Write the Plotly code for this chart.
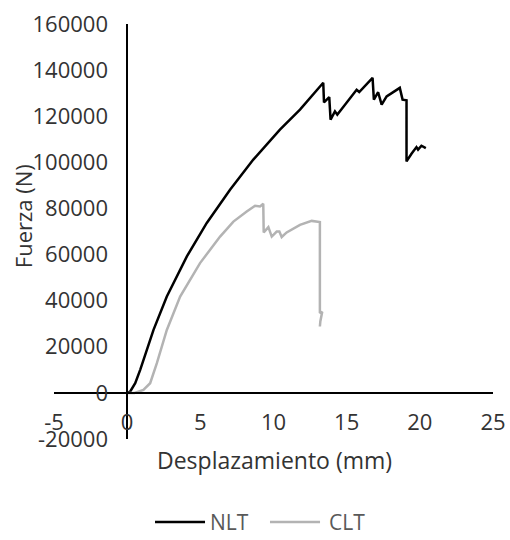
import plotly.graph_objects as go

# ---- data ----
nlt_x = [0, 0.2, 0.55, 0.89, 1.8, 2.71, 4.08, 5.44, 7.03, 8.62, 10.44, 11.81, 13.4,
         13.45, 13.81, 13.9, 14.2, 14.36, 14.66, 15.22, 15.68, 15.86, 16.36, 16.77,
         16.86, 17.15, 17.39, 17.73, 18.63, 18.82, 19.09, 19.09, 19.43, 19.77, 19.88,
         20.11, 20.41]
nlt_y = [0, 500, 4200, 10000, 27350, 41800, 59200, 73700, 88100, 101200, 114200, 122900, 134500,
         126000, 128300, 118500, 122100, 120700, 123100, 127900, 131500, 130500, 134100, 136600,
         127200, 130400, 125000, 128600, 132300, 127200, 126900, 100400, 103700, 106600, 105500,
         107200, 106200]

clt_x = [0, 0.5, 1.11, 1.57, 2.03, 2.71, 3.62, 4.98, 6.35, 7.26, 8.17, 8.74, 9.08, 9.3,
         9.33, 9.65, 9.88, 10.22, 10.4, 10.56, 10.9, 11.81, 12.61, 13.17,
         13.17, 13.33, 13.2, 13.17]
clt_y = [0, 0, 1300, 4200, 12900, 27300, 41800, 56300, 67800, 74300, 78700, 81200, 80900, 82000,
         69600, 71900, 67800, 70000, 70000, 67600, 69600, 72900, 74600, 74100,
         34600, 35200, 31000, 28800]

series_names = ["NLT", "CLT"]
series_colors = ["#000000", "#b3b3b3"]

x_ticks = [-5, 0, 5, 10, 15, 20, 25]
x_ticktext = ["-5", "0", "5", "10", "15", "20", "25"]
y_ticks = [-20000, 0, 20000, 40000, 60000, 80000, 100000, 120000, 140000, 160000]
y_ticktext = ["-20000", "0", "20000", "40000", "60000", "80000", "100000",
              "120000", "140000", "160000"]

FONT = "Open Sans"
TXT = "#333333"
LEG = "#595959"

fig = go.Figure()
fig.add_trace(go.Scatter(x=nlt_x, y=nlt_y, mode="lines", name=series_names[0],
                         line=dict(color=series_colors[0], width=2.5)))
fig.add_trace(go.Scatter(x=clt_x, y=clt_y, mode="lines", name=series_names[1],
                         line=dict(color=series_colors[1], width=2.5)))

xmin, xmax = -5, 25
ymin, ymax = -20000, 160000

# manual legend (line samples + labels) below the plot
leg_y = -0.2
leg_items = [(0.2301, 0.344, 0.3508), (0.492, 0.606, 0.6219)]
shapes = []
annotations = []
for (x0, x1, xt), name, col in zip(leg_items, series_names, series_colors):
    shapes.append(dict(type="line", xref="paper", yref="paper", x0=x0, x1=x1,
                       y0=leg_y, y1=leg_y, line=dict(color=col, width=2.5)))
    annotations.append(dict(text=name, xref="paper", yref="paper", x=xt, y=leg_y,
                            xanchor="left", yanchor="middle", showarrow=False,
                            font=dict(size=21, color=LEG)))

annotations += [
    dict(text="Desplazamiento (mm)", xref="paper", yref="paper", x=0.5034, y=-0.0506,
         xanchor="center", yanchor="middle", showarrow=False,
         font=dict(size=23, color=TXT)),
    dict(text="Fuerza (N)", xref="paper", yref="paper", x=-0.0706, y=0.537,
         xanchor="center", yanchor="middle", showarrow=False, textangle=-90,
         font=dict(size=22, color=TXT)),
]

fig.update_layout(
    width=510, height=540,
    margin=dict(l=54, r=17, t=24, b=101, autoexpand=False),
    plot_bgcolor="white", paper_bgcolor="white",
    font=dict(family=FONT, size=22, color=TXT),
    showlegend=False,
    xaxis=dict(range=[xmin, xmax], tickvals=x_ticks, ticktext=x_ticktext,
               showgrid=False, zeroline=False,
               showline=True, linecolor="black", linewidth=1.5, ticks="",
               anchor="free", position=(0 - ymin) / (ymax - ymin),
               ticklabelstandoff=10, ticklabeloverflow="allow",
               tickfont=dict(size=22, color=TXT)),
    yaxis=dict(range=[ymin, ymax], tickvals=y_ticks, ticktext=y_ticktext,
               showgrid=False, zeroline=False,
               showline=True, linecolor="black", linewidth=1.5, ticks="",
               anchor="free", position=(0 - xmin) / (xmax - xmin),
               ticklabelstandoff=14, ticklabeloverflow="allow",
               tickfont=dict(size=22, color=TXT)),
    shapes=shapes,
    annotations=annotations,
)

fig.write_html("out.html",
               config={"displayModeBar": False},
               post_script="document.body.style.margin='0px';document.body.style.overflow='hidden';")
